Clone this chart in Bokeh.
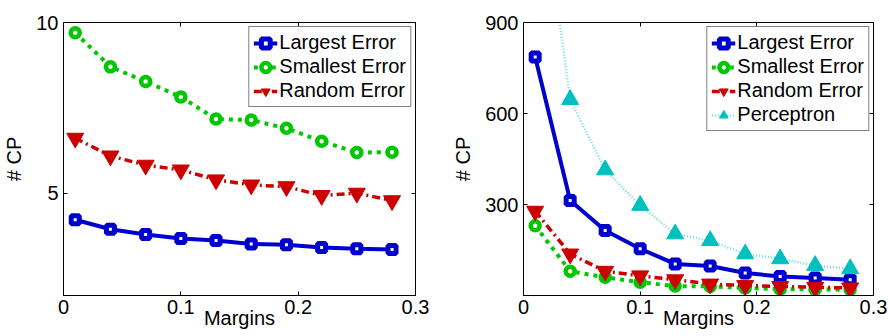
from bokeh.plotting import figure
from bokeh.models import LinearAxis, FixedTicker, Range1d
from bokeh.layouts import row
from bokeh.embed import file_html
from bokeh.resources import INLINE

# ---------------- data ----------------
margins = [0.01, 0.04, 0.07, 0.10, 0.13, 0.16, 0.19, 0.22, 0.25, 0.28]
x_ticks = [0, 0.1, 0.2, 0.3]
x_tick_labels = ["0", "0.1", "0.2", "0.3"]

left_largest = [4.22, 3.94, 3.79, 3.67, 3.61, 3.51, 3.49, 3.41, 3.37, 3.35]
left_smallest = [9.70, 8.70, 8.27, 7.82, 7.17, 7.14, 6.90, 6.52, 6.19, 6.20]
left_random = [6.61, 6.09, 5.82, 5.68, 5.39, 5.24, 5.19, 4.93, 5.00, 4.78]
left_y_ticks = [5, 10]
left_y_tick_labels = ["5", "10"]

right_largest = [786, 313, 214, 154, 104, 97, 74, 63, 58, 52]
right_smallest = [230, 80, 60, 44, 31, 30, 25, 21, 20, 19]
right_random = [278, 137, 80, 65, 52, 38, 33, 30, 27, 25]
right_perceptron = [1500, 646, 414, 297, 203, 181, 137, 121, 99, 88]
right_y_ticks = [300, 600, 900]
right_y_tick_labels = ["300", "600", "900"]

series_names = ["Largest Error", "Smallest Error", "Random Error", "Perceptron"]
x_label = "Margins"
y_label = "# CP"

# ---------------- styles ----------------
FONT = "Liberation Sans"
STYLES = {
    "Largest Error": dict(color="#0000cc", line_width=4, dash="solid", marker="square",
                          size=8, m_lw=5, fill="white"),
    "Smallest Error": dict(color="#00c800", line_width=4, dash="4 5", marker="circle",
                           size=9, m_lw=4.5, fill="white"),
    "Random Error": dict(color="#cc0000", line_width=3.5, dash="8 4 2 4", marker="inverted_triangle",
                         size=17, m_lw=1, fill="#cc0000"),
    "Perceptron": dict(color="#00bfbf", line_width=2.5, dash="1 2", marker="triangle",
                       size=17, m_lw=1, fill="#00bfbf", line_alpha=0.55),
}


def style_axis(ax, font_size="20px"):
    ax.major_tick_in = 4
    ax.major_tick_out = 0
    ax.minor_tick_line_color = None
    ax.axis_line_color = "black"
    ax.major_tick_line_color = "black"
    ax.major_label_text_font = FONT
    ax.major_label_text_font_size = font_size
    ax.major_label_text_color = "black"


def make_fig(y_lo, y_hi, y_ticks, y_tick_labels, series, border_left, border_right):
    p = figure(width=444, height=336, x_range=Range1d(0, 0.3), y_range=Range1d(y_lo, y_hi),
               output_backend="svg", toolbar_location=None,
               min_border_left=border_left, min_border_right=border_right,
               min_border_top=22, min_border_bottom=41)
    p.grid.visible = False
    p.outline_line_color = "black"
    p.outline_line_width = 1
    p.background_fill_color = "white"
    p.border_fill_color = "white"

    for name, vals in series:
        s = STYLES[name]
        la = s.get("line_alpha", 1.0)
        p.line(margins, vals, line_color=s["color"], line_width=s["line_width"],
               line_dash=s["dash"], line_alpha=la, legend_label=name)
        p.scatter(margins, vals, marker=s["marker"], size=s["size"], line_color=s["color"],
                  line_width=s["m_lw"], fill_color=s["fill"], legend_label=name)

    xa = p.xaxis[0]
    ya = p.yaxis[0]
    style_axis(xa)
    style_axis(ya)
    xa.ticker = FixedTicker(ticks=x_ticks)
    xa.major_label_overrides = dict(zip(x_ticks, x_tick_labels))
    xa.major_label_standoff = 4
    xa.axis_label = x_label
    xa.axis_label_text_font = FONT
    xa.axis_label_text_font_size = "20px"
    xa.axis_label_text_font_style = "normal"
    xa.axis_label_text_color = "black"
    xa.axis_label_standoff = -10
    ya.ticker = FixedTicker(ticks=y_ticks)
    ya.major_label_overrides = dict(zip(y_ticks, y_tick_labels))
    ya.major_label_standoff = 5
    ya.axis_label = y_label
    ya.axis_label_text_font = FONT
    ya.axis_label_text_font_size = "20px"
    ya.axis_label_text_font_style = "normal"
    ya.axis_label_text_color = "black"
    ya.axis_label_standoff = 8

    # mirrored tick marks on top and right (box on), no labels
    top = LinearAxis(ticker=FixedTicker(ticks=x_ticks))
    style_axis(top, "1px")
    top.major_label_text_color = None
    top.major_label_standoff = 0
    p.add_layout(top, "above")
    right = LinearAxis(ticker=FixedTicker(ticks=y_ticks))
    style_axis(right, "1px")
    right.major_label_text_color = None
    right.major_label_standoff = 0
    p.add_layout(right, "right")

    lg = p.legend[0]
    lg.location = "top_right"
    lg.margin = 4
    lg.padding = 4
    lg.spacing = 1
    lg.label_height = 22
    lg.glyph_height = 22
    lg.glyph_width = 24
    lg.label_standoff = 2
    lg.label_text_font = FONT
    lg.label_text_font_size = "20px"
    lg.label_text_color = "black"
    lg.border_line_color = "black"
    lg.border_line_width = 1
    lg.background_fill_alpha = 1.0
    return p


p1 = make_fig(2, 10, left_y_ticks, left_y_tick_labels,
              [("Largest Error", left_largest), ("Smallest Error", left_smallest),
               ("Random Error", left_random)], 60, 29)
p2 = make_fig(0, 900, right_y_ticks, right_y_tick_labels,
              [("Largest Error", right_largest), ("Smallest Error", right_smallest),
               ("Random Error", right_random), ("Perceptron", right_perceptron)], 79, 15)

layout = row(p1, p2)
open("out.html", "w").write(file_html(layout, INLINE))
